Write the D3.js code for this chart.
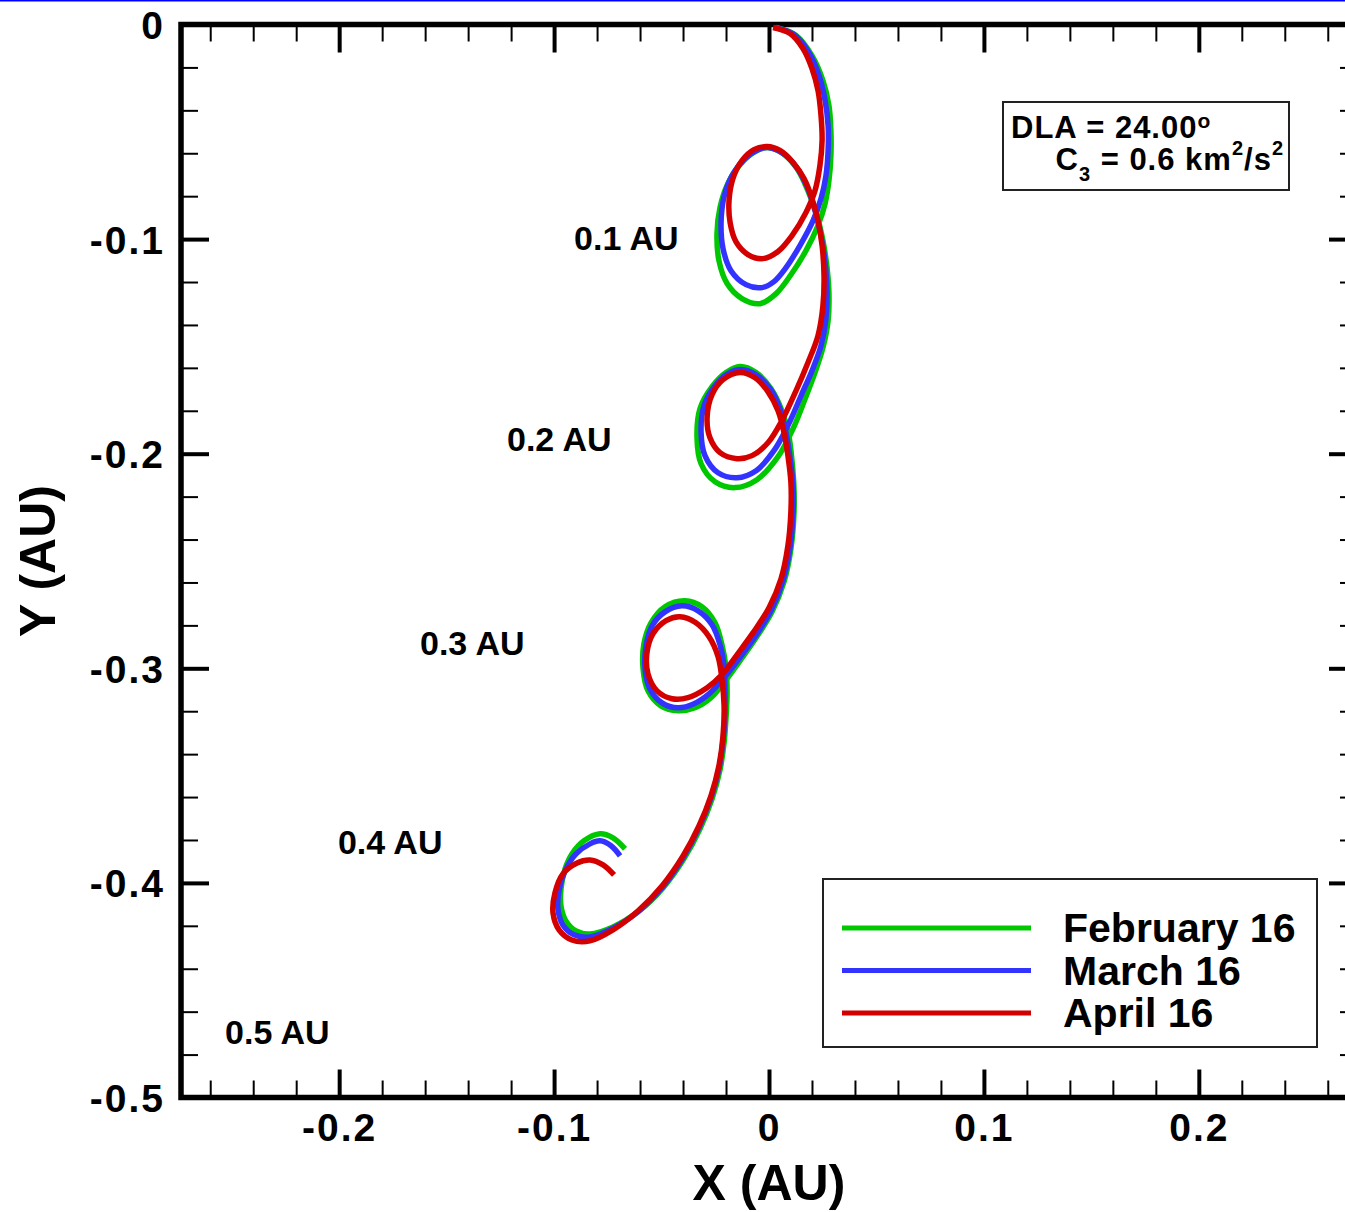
<!DOCTYPE html>
<html lang="en">
<head>
<meta charset="UTF-8">
<title>Trajectories - DLA 24.00</title>
<style>
  body { margin: 0; padding: 0; background: #fff; }
  svg { display: block; }
  text { font-family: "Liberation Sans", Arial, Helvetica, sans-serif; font-weight: bold; fill: #000; }
  .axis .domain { display: none; }
  .axis line { stroke: #000; }
  .axis.major line { stroke-width: 4px; }
  .axis.minor line { stroke-width: 2px; }
  .axis text { font-size: 39px; letter-spacing: 2px; font-family: "Liberation Sans", Arial, sans-serif; font-weight: bold; }
  .traj { fill: none; stroke-width: 5.5px; stroke-linejoin: round; stroke-linecap: butt; }
  .au-label { font-size: 34px; }
  .title { font-size: 50px; }
  .info text { font-size: 31px; letter-spacing: 1px; }
</style>
</head>
<body>
<script src="https://d3js.org/d3.v7.min.js"></script>
<script>
// tick values and labels
const xMajor = [-0.2, -0.1, 0, 0.1, 0.2];
const xMajorLabels = ["-0.2", "-0.1", "0", "0.1", "0.2"];
const xMinor = [-0.26, -0.24, -0.22, -0.18, -0.16, -0.14, -0.12, -0.08, -0.06, -0.04, -0.02,
                0.02, 0.04, 0.06, 0.08, 0.12, 0.14, 0.16, 0.18, 0.22, 0.24, 0.26];
const yMajor = [0, -0.1, -0.2, -0.3, -0.4, -0.5];
const yMajorLabels = ["0", "-0.1", "-0.2", "-0.3", "-0.4", "-0.5"];
const yMinor = [-0.02, -0.04, -0.06, -0.08, -0.12, -0.14, -0.16, -0.18, -0.22, -0.24, -0.26, -0.28,
                -0.32, -0.34, -0.36, -0.38, -0.42, -0.44, -0.46, -0.48];

// series (X, Y in AU)
const seriesNames = ["February 16", "March 16", "April 16"];
const seriesColors = ["#00c800", "#3333ff", "#d40000"];

const febPoints = [
  [0.0033,-0.0014],[0.0126,-0.0051],[0.0200,-0.0145],[0.0251,-0.0261],[0.0279,-0.0378],[0.0288,-0.0494],
  [0.0288,-0.0611],[0.0279,-0.0727],[0.0261,-0.0834],[0.0228,-0.0937],[0.0172,-0.1054],[0.0102,-0.1166],
  [0.0033,-0.1254],[-0.0042,-0.1301],[-0.0126,-0.1277],[-0.0195,-0.1207],[-0.0233,-0.1100],[-0.0242,-0.0974],
  [-0.0228,-0.0853],[-0.0191,-0.0741],[-0.0135,-0.0653],[-0.0065,-0.0592],[-0.0005,-0.0573],[0.0065,-0.0601],
  [0.0130,-0.0671],[0.0181,-0.0774],[0.0223,-0.0890],[0.0251,-0.1007],[0.0270,-0.1133],[0.0279,-0.1254],
  [0.0275,-0.1380],[0.0251,-0.1506],[0.0214,-0.1622],[0.0168,-0.1744],[0.0112,-0.1883],[0.0042,-0.2014],
  [-0.0056,-0.2121],[-0.0158,-0.2158],[-0.0251,-0.2131],[-0.0316,-0.2047],[-0.0335,-0.1925],[-0.0321,-0.1790],
  [-0.0265,-0.1688],[-0.0200,-0.1622],[-0.0135,-0.1594],[-0.0060,-0.1622],[0.0009,-0.1697],[0.0060,-0.1800],
  [0.0093,-0.1921],[0.0107,-0.2033],[0.0116,-0.2154],[0.0116,-0.2284],[0.0102,-0.2443],[0.0070,-0.2597],
  [0.0014,-0.2737],[-0.0060,-0.2858],[-0.0135,-0.2965],[-0.0200,-0.3054],[-0.0270,-0.3137],[-0.0344,-0.3184],
  [-0.0423,-0.3198],[-0.0503,-0.3175],[-0.0563,-0.3105],[-0.0586,-0.3002],[-0.0582,-0.2886],[-0.0549,-0.2788],
  [-0.0484,-0.2713],[-0.0391,-0.2685],[-0.0312,-0.2713],[-0.0251,-0.2788],[-0.0219,-0.2890],[-0.0200,-0.2998],
  [-0.0195,-0.3114],[-0.0200,-0.3231],[-0.0209,-0.3347],[-0.0228,-0.3473],[-0.0265,-0.3608],[-0.0321,-0.3748],
  [-0.0396,-0.3888],[-0.0493,-0.4023],[-0.0605,-0.4131],[-0.0726,-0.4205],[-0.0833,-0.4238],[-0.0898,-0.4224],
  [-0.0945,-0.4177],[-0.0968,-0.4107],[-0.0968,-0.4028],[-0.0949,-0.3935],[-0.0917,-0.3865],[-0.0861,-0.3804],
  [-0.0786,-0.3771],[-0.0726,-0.3790],[-0.0670,-0.3841]
];

const marPoints = [
  [0.0028,-0.0014],[0.0116,-0.0047],[0.0186,-0.0131],[0.0233,-0.0238],[0.0261,-0.0354],[0.0275,-0.0471],
  [0.0275,-0.0587],[0.0265,-0.0704],[0.0242,-0.0811],[0.0205,-0.0914],[0.0144,-0.1030],[0.0079,-0.1133],
  [0.0023,-0.1198],[-0.0033,-0.1226],[-0.0107,-0.1212],[-0.0177,-0.1147],[-0.0214,-0.1044],[-0.0223,-0.0923],
  [-0.0209,-0.0802],[-0.0172,-0.0704],[-0.0112,-0.0625],[-0.0051,-0.0583],[-0.0005,-0.0573],[0.0060,-0.0597],
  [0.0126,-0.0662],[0.0177,-0.0755],[0.0214,-0.0867],[0.0242,-0.0984],[0.0261,-0.1110],[0.0270,-0.1240],
  [0.0265,-0.1371],[0.0242,-0.1497],[0.0200,-0.1613],[0.0149,-0.1730],[0.0088,-0.1869],[0.0023,-0.1986],
  [-0.0060,-0.2079],[-0.0149,-0.2112],[-0.0237,-0.2089],[-0.0298,-0.2009],[-0.0316,-0.1902],[-0.0302,-0.1776],
  [-0.0251,-0.1683],[-0.0191,-0.1627],[-0.0130,-0.1608],[-0.0060,-0.1632],[0.0005,-0.1697],[0.0051,-0.1790],
  [0.0079,-0.1902],[0.0098,-0.2019],[0.0112,-0.2145],[0.0112,-0.2275],[0.0098,-0.2438],[0.0065,-0.2592],
  [0.0009,-0.2732],[-0.0065,-0.2853],[-0.0140,-0.2956],[-0.0209,-0.3044],[-0.0279,-0.3119],[-0.0349,-0.3165],
  [-0.0423,-0.3184],[-0.0498,-0.3161],[-0.0554,-0.3096],[-0.0577,-0.3002],[-0.0572,-0.2895],[-0.0544,-0.2802],
  [-0.0484,-0.2737],[-0.0405,-0.2709],[-0.0330,-0.2732],[-0.0265,-0.2797],[-0.0228,-0.2890],[-0.0209,-0.2988],
  [-0.0205,-0.3105],[-0.0205,-0.3221],[-0.0214,-0.3338],[-0.0233,-0.3469],[-0.0270,-0.3604],[-0.0326,-0.3744],
  [-0.0400,-0.3883],[-0.0498,-0.4023],[-0.0610,-0.4135],[-0.0731,-0.4214],[-0.0833,-0.4252],[-0.0907,-0.4242],
  [-0.0959,-0.4196],[-0.0982,-0.4121],[-0.0977,-0.4037],[-0.0949,-0.3944],[-0.0898,-0.3865],[-0.0833,-0.3818],
  [-0.0786,-0.3804],[-0.0735,-0.3827],[-0.0693,-0.3874]
];

const aprPoints = [
  [0.0019,-0.0014],[0.0098,-0.0042],[0.0158,-0.0112],[0.0200,-0.0205],[0.0228,-0.0308],[0.0242,-0.0424],
  [0.0247,-0.0541],[0.0237,-0.0657],[0.0214,-0.0774],[0.0172,-0.0876],[0.0107,-0.0984],[0.0042,-0.1058],
  [-0.0028,-0.1091],[-0.0098,-0.1072],[-0.0154,-0.1012],[-0.0181,-0.0923],[-0.0186,-0.0821],[-0.0168,-0.0718],
  [-0.0126,-0.0634],[-0.0070,-0.0583],[-0.0009,-0.0569],[0.0051,-0.0587],[0.0112,-0.0643],[0.0163,-0.0718],
  [0.0200,-0.0811],[0.0228,-0.0914],[0.0247,-0.1030],[0.0256,-0.1170],[0.0251,-0.1310],[0.0228,-0.1450],
  [0.0181,-0.1576],[0.0126,-0.1706],[0.0060,-0.1846],[-0.0005,-0.1949],[-0.0079,-0.2009],[-0.0149,-0.2023],
  [-0.0228,-0.1995],[-0.0275,-0.1925],[-0.0288,-0.1832],[-0.0265,-0.1725],[-0.0214,-0.1655],[-0.0135,-0.1622],
  [-0.0065,-0.1646],[-0.0005,-0.1711],[0.0042,-0.1800],[0.0070,-0.1902],[0.0088,-0.2009],[0.0102,-0.2135],
  [0.0102,-0.2266],[0.0088,-0.2429],[0.0056,-0.2583],[0.0000,-0.2718],[-0.0074,-0.2834],[-0.0149,-0.2937],
  [-0.0219,-0.3030],[-0.0288,-0.3091],[-0.0377,-0.3137],[-0.0451,-0.3142],[-0.0521,-0.3105],[-0.0563,-0.3026],
  [-0.0568,-0.2928],[-0.0540,-0.2839],[-0.0479,-0.2778],[-0.0414,-0.2760],[-0.0340,-0.2788],[-0.0279,-0.2853],
  [-0.0237,-0.2946],[-0.0219,-0.3049],[-0.0209,-0.3175],[-0.0214,-0.3315],[-0.0233,-0.3454],[-0.0270,-0.3594],
  [-0.0326,-0.3734],[-0.0400,-0.3874],[-0.0498,-0.4014],[-0.0610,-0.4131],[-0.0726,-0.4219],[-0.0833,-0.4270],
  [-0.0917,-0.4266],[-0.0977,-0.4219],[-0.1005,-0.4140],[-0.0996,-0.4047],[-0.0959,-0.3958],[-0.0893,-0.3907],
  [-0.0833,-0.3893],[-0.0772,-0.3916],[-0.0721,-0.3963]
];

// distance annotations (anchor in AU)
const auLabels = ["0.1 AU", "0.2 AU", "0.3 AU", "0.4 AU", "0.5 AU"];
const auLabelX = [-0.0907, -0.1219, -0.1624, -0.2006, -0.2531];
const auLabelY = [-0.1049, -0.1986, -0.2937, -0.3865, -0.4751];

const W = 1345, H = 1212;
const plot = { left: 181, right: 1357, top: 24.5, bottom: 1097.5 };

const svg = d3.select("body").append("svg")
    .attr("width", W)
    .attr("height", H);

// thin blue line along the very top
svg.append("line")
    .attr("x1", 0).attr("x2", W)
    .attr("y1", 0.75).attr("y2", 0.75)
    .attr("stroke", "#0000ff")
    .attr("stroke-width", 1.5);

const x = d3.scaleLinear().domain([-0.2736, 0.2736]).range([plot.left, plot.right]);
const y = d3.scaleLinear().domain([-0.5, 0]).range([plot.bottom, plot.top]);

// axes: ticks point inward, labels on bottom and left only
function addAxis(axis, cls, tx, ty) {
    return svg.append("g")
        .attr("class", "axis " + cls)
        .attr("transform", "translate(" + tx + "," + ty + ")")
        .call(axis);
}

addAxis(d3.axisBottom(x).tickValues(xMinor).tickSizeInner(-17).tickSizeOuter(0).tickFormat(""), "minor", 0, plot.bottom);
addAxis(d3.axisTop(x).tickValues(xMinor).tickSizeInner(-17).tickSizeOuter(0).tickFormat(""), "minor", 0, plot.top);
addAxis(d3.axisLeft(y).tickValues(yMinor).tickSizeInner(-17).tickSizeOuter(0).tickFormat(""), "minor", plot.left, 0);
addAxis(d3.axisRight(y).tickValues(yMinor).tickSizeInner(-17).tickSizeOuter(0).tickFormat(""), "minor", plot.right, 0);

addAxis(d3.axisBottom(x).tickValues(xMajor).tickSizeInner(-28).tickSizeOuter(0).tickPadding(16)
    .tickFormat((d, i) => xMajorLabels[i]), "major", 0, plot.bottom);
addAxis(d3.axisTop(x).tickValues(xMajor).tickSizeInner(-28).tickSizeOuter(0).tickFormat(""), "major", 0, plot.top);
const yAxisLeft = addAxis(d3.axisLeft(y).tickValues(yMajor).tickSizeInner(-28).tickSizeOuter(0).tickPadding(16)
    .tickFormat((d, i) => yMajorLabels[i]), "major", plot.left, 0);
addAxis(d3.axisRight(y).tickValues(yMajor).tickSizeInner(-28).tickSizeOuter(0).tickFormat(""), "major", plot.right, 0);

yAxisLeft.selectAll("text").attr("dy", "0.36em");

// frame
svg.append("rect")
    .attr("x", plot.left).attr("y", plot.top)
    .attr("width", plot.right - plot.left)
    .attr("height", plot.bottom - plot.top)
    .attr("fill", "none")
    .attr("stroke", "#000")
    .attr("stroke-width", 5.5);

// trajectories
const line = d3.line()
    .x(d => x(d[0]))
    .y(d => y(d[1]))
    .curve(d3.curveCatmullRom.alpha(0.5));

const allSeries = [febPoints, marPoints, aprPoints];
svg.append("g").selectAll("path")
    .data(allSeries)
    .enter().append("path")
    .attr("class", "traj")
    .attr("stroke", (d, i) => seriesColors[i])
    .attr("d", line);

// distance labels
svg.append("g").selectAll("text")
    .data(auLabels)
    .enter().append("text")
    .attr("class", "au-label")
    .attr("x", (d, i) => x(auLabelX[i]))
    .attr("y", (d, i) => y(auLabelY[i]))
    .text(d => d);

// axis titles
svg.append("text")
    .attr("class", "title")
    .attr("x", x(0))
    .attr("y", 1200)
    .attr("text-anchor", "middle")
    .text("X (AU)");

svg.append("text")
    .attr("class", "title")
    .attr("transform", "translate(55," + ((plot.top + plot.bottom) / 2) + ") rotate(-90)")
    .attr("text-anchor", "middle")
    .text("Y (AU)");

// DLA / C3 box
const info = svg.append("g").attr("class", "info");
info.append("rect")
    .attr("x", 1003).attr("y", 102)
    .attr("width", 286).attr("height", 88)
    .attr("fill", "#fff")
    .attr("stroke", "#222")
    .attr("stroke-width", 2);

const l1 = info.append("text")
    .attr("x", 1011).attr("y", 138);
l1.append("tspan").text("DLA = 24.00");
l1.append("tspan").attr("dy", -10).style("font-size", "21px").style("letter-spacing", "0px").text("o");

const l2 = info.append("text")
    .attr("x", 1283).attr("y", 170)
    .attr("text-anchor", "end");
l2.append("tspan").text("C");
l2.append("tspan").attr("dy", 11).style("font-size", "20px").text("3");
l2.append("tspan").attr("dy", -11).text(" = 0.6 km");
l2.append("tspan").attr("dy", -15).style("font-size", "20px").text("2");
l2.append("tspan").attr("dy", 15).text("/s");
l2.append("tspan").attr("dy", -15).style("font-size", "20px").style("letter-spacing", "0px").text("2");

// legend
const legend = svg.append("g");
legend.append("rect")
    .attr("x", 823).attr("y", 879)
    .attr("width", 494).attr("height", 168)
    .attr("fill", "#fff")
    .attr("stroke", "#222")
    .attr("stroke-width", 2);

const legendRow = [0, 1, 2];
legend.selectAll("line")
    .data(legendRow)
    .enter().append("line")
    .attr("x1", 842).attr("x2", 1031)
    .attr("y1", i => 928 + i * 42.5)
    .attr("y2", i => 928 + i * 42.5)
    .attr("stroke", i => seriesColors[i])
    .attr("stroke-width", 5);

legend.selectAll("text")
    .data(legendRow)
    .enter().append("text")
    .attr("x", 1063)
    .attr("y", i => 942 + i * 42.5)
    .style("font-size", "41px")
    .text(i => seriesNames[i]);
</script>
</body>
</html>
